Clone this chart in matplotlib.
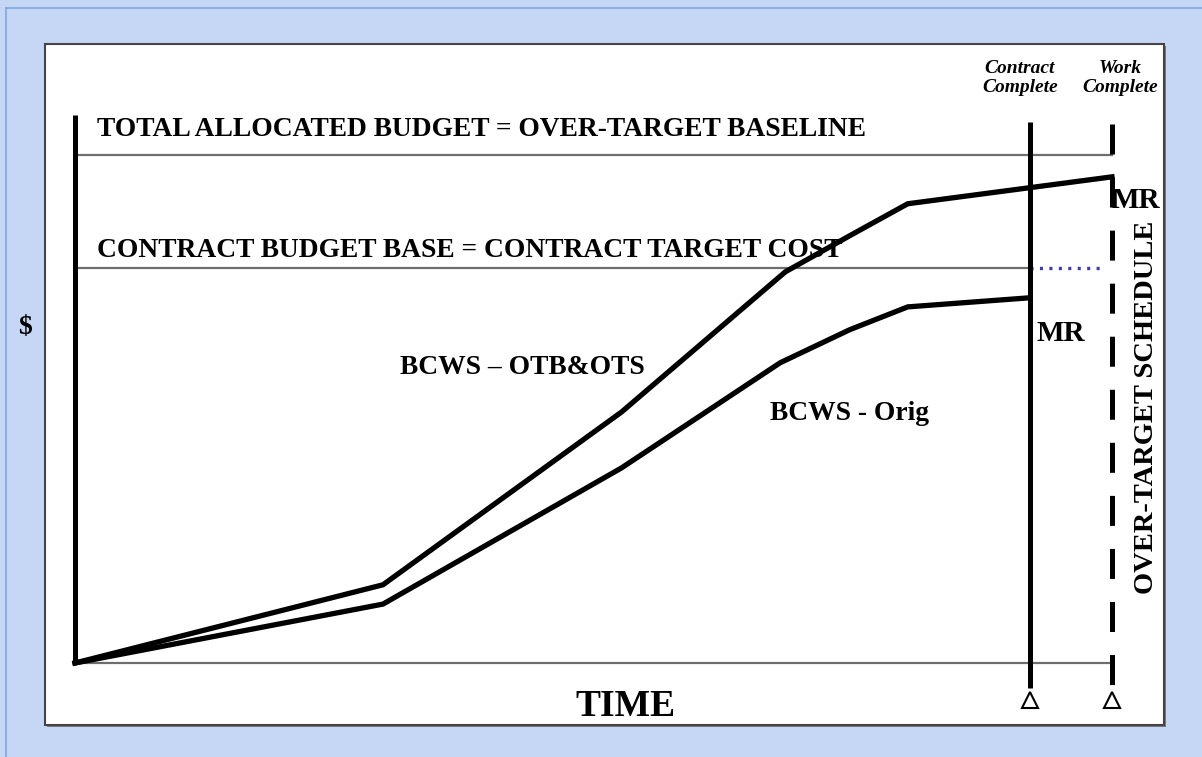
import matplotlib.pyplot as plt
from matplotlib.patches import Rectangle

plt.rcParams['lines.scale_dashes'] = False

# time axis: 0 = start, 100 = work complete ; $ axis: 100 = total allocated budget
otb_time = [0, 29.7, 52.7, 68.5, 74.7, 80.3, 100]
otb_cost = [0, 15.4, 49.4, 77.0, 84.1, 90.4, 95.7]
orig_time = [0, 29.7, 52.7, 68.0, 74.7, 80.3, 92.1]
orig_cost = [0, 11.6, 38.4, 59.1, 65.6, 70.1, 71.9]

tab_level = 100.0      # total allocated budget = OTB
cbb_level = 77.8       # contract budget base
contract_complete = 92.1
work_complete = 100.0

serif = 'Liberation Serif'

fig = plt.figure(figsize=(12.02, 7.57), dpi=100)
fig.patch.set_facecolor('#c6d7f6')

# thin blue outer edge on top / left
fig.add_artist(plt.Line2D([6 / 1202, 6 / 1202], [0, 1 - 8 / 757], color='#7fa6dc', lw=1.2,
                          zorder=-2))
fig.add_artist(plt.Line2D([6 / 1202, 1], [1 - 8 / 757, 1 - 8 / 757], color='#7fa6dc', lw=1.2,
                          zorder=-2))

# white panel with shadowed edge
fig.add_artist(Rectangle((47 / 1202, 30 / 757), 1119 / 1202, 681 / 757, zorder=-2,
                         facecolor='#7a7a7a', edgecolor='none', transform=fig.transFigure))
fig.add_artist(Rectangle((45 / 1202, 32 / 757), 1119 / 1202, 681 / 757, zorder=-1,
                         facecolor='white', edgecolor='#444444', lw=1.5, transform=fig.transFigure))

ax = fig.add_axes([0, 0, 1, 1])
ax.set_zorder(5)
ax.set_xlim(-7.232, 108.68)
ax.set_ylim(-18.50, 130.51)
ax.axis('off')
ax.patch.set_alpha(0)

# reference lines
ax.plot([0, work_complete], [tab_level, tab_level], color='#6e6e6e', lw=1.6)
ax.plot([0, contract_complete], [cbb_level, cbb_level], color='#6e6e6e', lw=1.6)
ax.plot([contract_complete, 99.3], [cbb_level, cbb_level], color='#3c3caa', lw=2.4,
        linestyle=(0, (2.2, 4.6)))
ax.plot([0, work_complete], [0, 0], color='#6e6e6e', lw=1.6)

# $ axis
ax.plot([0, 0], [107.9, 0], color='black', lw=3.6, solid_capstyle='butt')

# milestone lines
ax.plot([contract_complete, contract_complete], [106.5, -4.9], color='black', lw=3.6,
        solid_capstyle='butt')
ax.plot([work_complete, work_complete], [106.1, -4.9], color='black', lw=3.6,
        linestyle=(0, (21.6, 16.6)), dash_capstyle='butt')
ax.plot([contract_complete, work_complete], [-7.2, -7.2], linestyle='none', marker='^',
        markersize=12, markerfacecolor='white', markeredgecolor='black', markeredgewidth=1.5)

# BCWS curves
ax.plot(otb_time, otb_cost, color='black', lw=3.8, solid_joinstyle='miter')
ax.plot(orig_time, orig_cost, color='black', lw=3.8, solid_joinstyle='miter')

# labels
bold = dict(family=serif, fontweight='bold', color='black')
ax.text(2.1, 105.1, 'TOTAL ALLOCATED BUDGET = OVER-TARGET BASELINE', fontsize=19.8,
        va='center', ha='left', **bold)
ax.text(2.1, 81.2, 'CONTRACT BUDGET BASE = CONTRACT TARGET COST', fontsize=19.8,
        va='center', ha='left', **bold)
ax.text(31.3, 58.2, 'BCWS \u2013 OTB&OTS', fontsize=19.8, va='center', ha='left', **bold)
ax.text(67.0, 49.2, 'BCWS - Orig', fontsize=19.8, va='center', ha='left', **bold)
ax.text(92.7, 64.9, 'MR', fontsize=21, va='center', ha='left', **bold)
ax.text(100.0, 91.0, 'MR', fontsize=21, va='center', ha='left', **bold)
ax.text(-4.8, 66.1, '$', fontsize=20, va='center', ha='center', **bold)
ax.text(53.1, -8.6, 'TIME', fontsize=27, va='center', ha='center', **bold)
ax.text(103.3, 50.4, 'OVER-TARGET SCHEDULE', fontsize=20.5, rotation=90,
        va='center', ha='center', **bold)
ax.text(91.1, 115.1, 'Contract\nComplete', fontsize=14, style='italic', family=serif,
        fontweight='bold', ha='center', va='center', linespacing=1.15)
ax.text(100.8, 115.1, 'Work\nComplete', fontsize=14, style='italic', family=serif,
        fontweight='bold', ha='center', va='center', linespacing=1.15)

fig.savefig('out.png', dpi=100, facecolor=fig.get_facecolor())
